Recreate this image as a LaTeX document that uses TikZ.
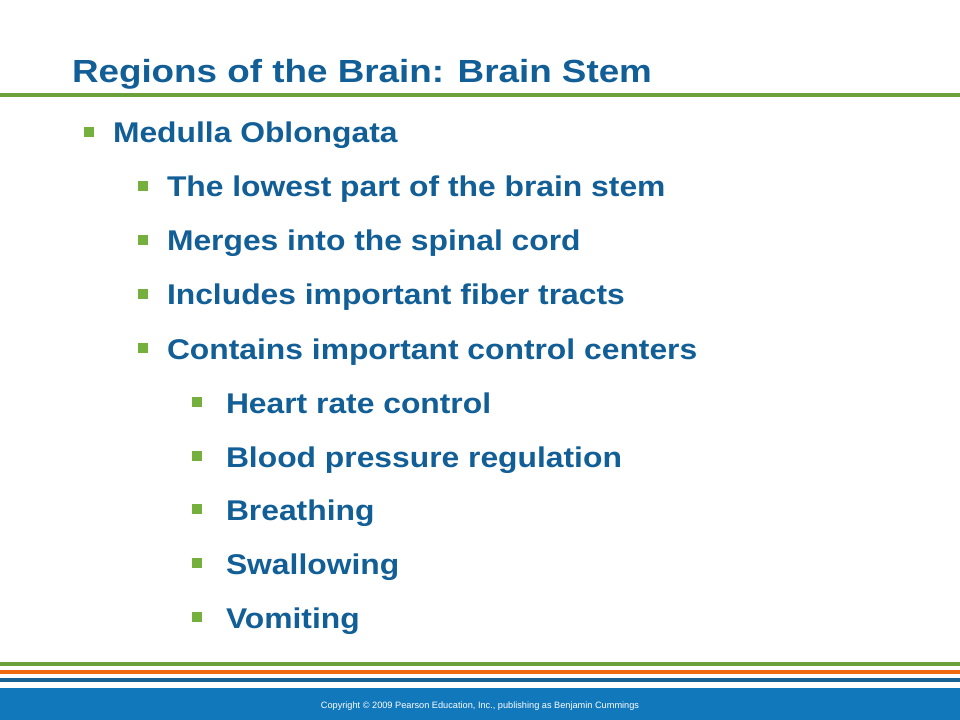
\documentclass[tikz,border=0pt]{standalone}
\usepackage{fontspec}
\setmainfont{Liberation Sans}
\newfontfamily\titlefont{Liberation Sans}[FakeStretch=1.15]
\newfontfamily\bodyfont{Liberation Sans}[FakeStretch=1.115]
\definecolor{txtblue}{RGB}{18,94,150}
\definecolor{lgreen}{RGB}{108,160,58}
\definecolor{bgreen}{RGB}{118,176,60}
\definecolor{orng}{RGB}{242,106,14}
\definecolor{dblue}{RGB}{24,98,148}
\definecolor{barblue}{RGB}{18,120,188}
\tikzset{
  every node/.style={inner sep=0pt, outer sep=0pt},
  title/.style={anchor=base west, text=txtblue, font=\titlefont\fontsize{24}{28}\selectfont\bfseries},
  item/.style={anchor=base west, text=txtblue, font=\bodyfont\fontsize{21.4}{25}\selectfont\bfseries},
  bul/.style={fill=bgreen, minimum size=7pt, draw=none},
  foot/.style={text=white, font=\fontsize{6.9}{8}\selectfont}
}
\begin{document}
\begin{tikzpicture}[x=0.75pt,y=-0.75pt]
\useasboundingbox (0,0) rectangle (960,720);
\fill[white] (0,0) rectangle (960,720);
% title
\node[title] (t) at (72,83) {Regions of the Brain: Brain Stem};
\fill[lgreen] (0,93) rectangle (960,97);
% level 1
\node[bul] (b1) at (89,132) {};
\node[item] (i1) at (113,143) {Medulla Oblongata};
% level 2
\node[bul] (b2) at (143,186) {};
\node[item] (i2) at (167,197) {The lowest part of the brain stem};
\node[bul] (b3) at (143,240) {};
\node[item] (i3) at (167,251) {Merges into the spinal cord};
\node[bul] (b4) at (143,294) {};
\node[item] (i4) at (167,305) {Includes important fiber tracts};
\node[bul] (b5) at (143,348) {};
\node[item] (i5) at (167,359) {Contains important control centers};
% level 3
\node[bul] (b6) at (197,402) {};
\node[item] (i6) at (226,413) {Heart rate control};
\node[bul] (b7) at (197,456) {};
\node[item] (i7) at (226,467) {Blood pressure regulation};
\node[bul] (b8) at (197,509) {};
\node[item] (i8) at (226,520) {Breathing};
\node[bul] (b9) at (197,563) {};
\node[item] (i9) at (226,574) {Swallowing};
\node[bul] (b10) at (197,617) {};
\node[item] (i10) at (226,628) {Vomiting};
% bottom stripes
\fill[lgreen] (0,662) rectangle (960,666);
\fill[orng] (0,670) rectangle (960,674);
\fill[dblue] (0,678) rectangle (960,682);
\fill[barblue] (0,688) rectangle (960,720);
\node[foot] (f) at (480,706) {Copyright \textcopyright\ 2009 Pearson Education, Inc., publishing as Benjamin Cummings};
\end{tikzpicture}
\end{document}
